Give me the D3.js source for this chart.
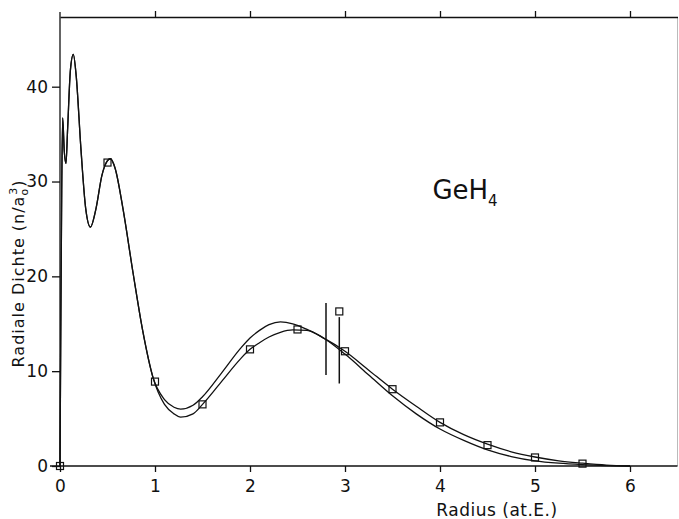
<!DOCTYPE html>
<html>
<head>
<meta charset="utf-8">
<script src="https://cdn.jsdelivr.net/npm/d3@7"></script>
<style>
    body { margin: 0; background: #fff; }
    #chart-area { width: 679px; height: 519px; }
    text { font-family: "DejaVu Sans", sans-serif; fill: #111; }
    .axis path, .axis line { stroke: #111; stroke-width: 1.3; }
</style>
</head>
<body>
<div id="chart-area"></div>
<script>

// inner part, both curves run together here (radius in at.E.)
let coreRadius  = [0, 0.008, 0.018, 0.028, 0.045, 0.063, 0.08, 0.11, 0.14, 0.17, 0.22, 0.27, 0.32, 0.38, 0.44, 0.5, 0.53, 0.58, 0.66, 0.77, 0.87, 0.98];
let coreDensity = [0, 14, 29, 36.7, 33.2, 31.9, 35.5, 41.8, 43.4, 41.2, 33.5, 27.2, 25.2, 27.2, 30.6, 32.2, 32.4, 31.4, 27.3, 20.3, 14.3, 9.3];

// outer part, curves split up
let outerRadius = [1.0, 1.1, 1.2, 1.27, 1.4, 1.5, 1.7, 1.9, 2.0, 2.1, 2.2, 2.32, 2.45, 2.6, 2.79, 3.0, 3.25, 3.5, 3.75, 4.0, 4.25, 4.5, 4.75, 5.0, 5.25, 5.5, 5.75, 6.0];
let densityA    = [9.0, 7.0, 6.2, 6.0, 6.4, 7.3, 9.8, 12.4, 13.5, 14.3, 14.9, 15.2, 15.0, 14.4, 13.4, 11.8, 9.6, 7.4, 5.5, 3.9, 2.7, 1.7, 1.0, 0.55, 0.3, 0.15, 0.05, 0];
let densityB    = [9.0, 6.5, 5.5, 5.15, 5.5, 6.5, 8.9, 11.3, 12.3, 13.0, 13.6, 14.1, 14.35, 14.3, 13.4, 12.1, 10.1, 8.1, 6.3, 4.6, 3.3, 2.3, 1.5, 0.95, 0.55, 0.3, 0.1, 0];

// measured points (squares)
let pointRadius  = [0, 0.5, 1.0, 1.5, 2.0, 2.5, 3.0, 3.5, 4.0, 4.5, 5.0, 5.5, 2.94];
let pointDensity = [0, 32, 8.9, 6.5, 12.3, 14.4, 12.1, 8.1, 4.6, 2.2, 0.9, 0.25, 16.3];

// vertical bars [radius, from, to]
let barRadius = [2.80, 2.94];
let barFrom   = [9.6, 8.7];
let barTo     = [17.2, 15.7];

let xTicks = [0, 1, 2, 3, 4, 5, 6];
let yTicks = [0, 10, 20, 30, 40];


class RadialDensityChart {

    constructor(parentElement) {
        this.parentElement = parentElement;
        this.initVis();
    }

    initVis() {
        let vis = this;

        vis.margin = {top: 17, right: 1.5, bottom: 53, left: 60};
        vis.width = 679 - vis.margin.left - vis.margin.right;
        vis.height = 519 - vis.margin.top - vis.margin.bottom;

        vis.svg = d3.select("#" + vis.parentElement).append("svg")
            .attr("width", 679)
            .attr("height", 519)
            .append("g")
            .attr("transform", "translate(" + vis.margin.left + "," + vis.margin.top + ")");

        // Scales and axes
        vis.x = d3.scaleLinear()
            .domain([0, 6.5])
            .range([0, vis.width]);

        vis.y = d3.scaleLinear()
            .domain([0, 47.35])
            .range([vis.height, 0]);

        vis.xAxis = d3.axisBottom(vis.x)
            .tickValues(xTicks)
            .tickFormat(d3.format("d"))
            .tickSize(6)
            .tickSizeOuter(0)
            .tickPadding(8);

        vis.xAxisTop = d3.axisTop(vis.x)
            .tickValues(xTicks.slice(1))
            .tickSize(6)
            .tickSizeOuter(0)
            .tickFormat("");

        vis.yAxis = d3.axisLeft(vis.y)
            .tickValues(yTicks)
            .tickFormat(d3.format("d"))
            .tickSize(8)
            .tickSizeOuter(0)
            .tickPadding(4);

        vis.line = d3.line()
            .x(d => vis.x(d[0]))
            .y(d => vis.y(d[1]))
            .curve(d3.curveMonotoneX);

        vis.updateVis();
    }

    updateVis() {
        let vis = this;

        // right frame, faint
        vis.svg.append("line")
            .attr("x1", vis.width).attr("x2", vis.width)
            .attr("y1", 0).attr("y2", vis.height)
            .attr("stroke", "#bbb")
            .attr("stroke-width", 1);

        let gx = vis.svg.append("g")
            .attr("class", "x-axis axis")
            .attr("transform", "translate(0," + vis.height + ")")
            .call(vis.xAxis);
        gx.select(".domain").attr("d", "M-10,0H" + vis.width);
        gx.selectAll("text").attr("font-size", 17);

        vis.svg.append("g")
            .attr("class", "x-axis-top axis")
            .call(vis.xAxisTop);

        let gy = vis.svg.append("g")
            .attr("class", "y-axis axis")
            .call(vis.yAxis);
        gy.select(".domain").attr("d", "M0,-5V" + vis.height);
        gy.selectAll("text").attr("font-size", 17);

        // curves
        let core = coreRadius.map((r, i) => [r, coreDensity[i]]);
        let curveA = core.concat(outerRadius.slice(1).map((r, i) => [r, densityA[i + 1]]));
        let curveB = core.concat(outerRadius.slice(1).map((r, i) => [r, densityB[i + 1]]));

        vis.svg.selectAll("path.curve")
            .data([curveA, curveB])
            .enter()
            .append("path")
            .attr("class", "curve")
            .attr("d", vis.line)
            .attr("fill", "none")
            .attr("stroke", "#111")
            .attr("stroke-width", 1.3);

        // vertical bars
        vis.svg.selectAll("line.bar")
            .data(barRadius)
            .enter()
            .append("line")
            .attr("class", "bar")
            .attr("x1", d => vis.x(d))
            .attr("x2", d => vis.x(d))
            .attr("y1", (d, i) => vis.y(barTo[i]))
            .attr("y2", (d, i) => vis.y(barFrom[i]))
            .attr("stroke", "#111")
            .attr("stroke-width", 1.5);

        // squares
        let s = 7;
        vis.svg.selectAll("rect.point")
            .data(pointRadius)
            .enter()
            .append("rect")
            .attr("class", "point")
            .attr("x", d => vis.x(d) - s / 2)
            .attr("y", (d, i) => vis.y(pointDensity[i]) - s / 2)
            .attr("width", s)
            .attr("height", s)
            .attr("fill", "none")
            .attr("stroke", "#111")
            .attr("stroke-width", 1.2);

        // labels
        vis.svg.append("text")
            .attr("x", vis.x(4.6))
            .attr("y", vis.height + 50)
            .attr("text-anchor", "middle")
            .attr("font-size", 17)
            .attr("letter-spacing", 0.5)
            .text("Radius (at.E.)");

        let ylab = vis.svg.append("text")
            .attr("transform", "translate(-36," + vis.y(20.3) + ") rotate(-90)")
            .attr("text-anchor", "middle")
            .attr("font-size", 16)
            .attr("letter-spacing", 1);
        ylab.append("tspan").text("Radiale Dichte  (n/a");
        ylab.append("tspan").attr("font-size", 11).attr("dy", 4).text("o");
        ylab.append("tspan").attr("font-size", 11).attr("dy", -11).attr("dx", -7).text("3");
        ylab.append("tspan").attr("dy", 7).text(")");

        let title = vis.svg.append("text")
            .attr("x", vis.x(3.92))
            .attr("y", vis.y(28.2))
            .attr("font-size", 26);
        title.append("tspan").text("GeH");
        title.append("tspan").attr("font-size", 15).attr("dy", 7).text("4");
    }
}

let chart = new RadialDensityChart("chart-area");
</script>
</body>
</html>
